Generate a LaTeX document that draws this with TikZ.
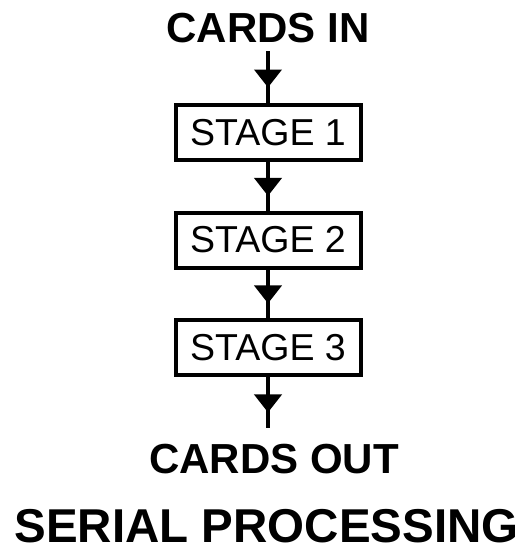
\documentclass[tikz,border=0pt]{standalone}
\usepackage{fontspec}
\setmainfont{Liberation Sans}
\usetikzlibrary{arrows.meta,positioning,decorations.markings}

\begin{document}
\begin{tikzpicture}[x=1pt,y=-1pt,
  stagebox/.style={draw,line width=4pt,minimum width=185pt,minimum height=55pt,inner sep=0pt,font=\fontsize{37.5}{40}\selectfont},
  heading/.style={inner sep=0pt,outer ysep=9pt,anchor=base,font=\fontsize{42}{44}\selectfont\bfseries},
  flow/.style={line width=4pt,postaction={decorate},
    decoration={markings,mark=at position 0.7 with {\arrow{Triangle[width=27pt,length=18pt]}}}}]
\useasboundingbox (0,0) rectangle (527,552);
\node[heading] (cardsin) at (268,42) {CARDS IN};
\foreach \n/\y in {1/132.5,2/240,3/347.5} {
  \node[stagebox] (stage\n) at (268,\y) {STAGE \n};
}
\node[heading,outer ysep=16pt] (cardsout) at (274,473) {CARDS OUT};
\node[heading,outer ysep=0pt,font=\fontsize{47.5}{50}\selectfont\bfseries] (title) at (266.5,542) {SERIAL PROCESSING};
\draw[flow] (cardsin) -- (stage1);
\draw[flow] (stage1) -- (stage2);
\draw[flow] (stage2) -- (stage3);
\draw[flow] (stage3) -- (stage3 |- cardsout.north);
\end{tikzpicture}
\end{document}
